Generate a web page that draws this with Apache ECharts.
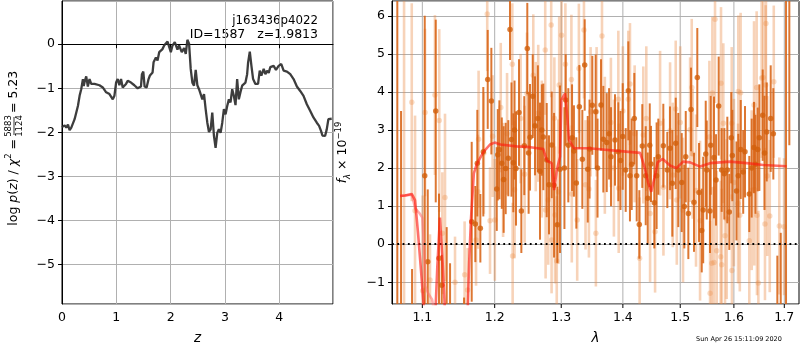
<!DOCTYPE html>
<html><head><meta charset="utf-8">
<script src="https://cdn.jsdelivr.net/npm/echarts@6/dist/echarts.min.js"></script>
<style>html,body{margin:0;padding:0;background:#fff}#c{width:800px;height:350px}</style>
</head><body><div id="c"></div>
<script>
// ---- left panel: log p(z)
const zVals = [0.000,0.049,0.079,0.110,0.140,0.171,0.232,0.293,0.324,0.354,0.385,0.400,0.415,0.446,0.476,0.507,0.538,0.599,0.690,0.751,0.782,0.813,0.874,0.935,0.965,0.996,1.026,1.057,1.087,1.118,1.179,1.210,1.271,1.332,1.393,1.454,1.472,1.497,1.521,1.558,1.594,1.619,1.668,1.686,1.729,1.759,1.790,1.851,1.881,1.943,1.973,2.004,2.034,2.077,2.126,2.156,2.205,2.248,2.279,2.309,2.340,2.370,2.401,2.431,2.462,2.492,2.523,2.553,2.584,2.615,2.645,2.676,2.706,2.737,2.767,2.798,2.828,2.859,2.889,2.920,2.951,2.981,3.012,3.042,3.073,3.103,3.134,3.164,3.195,3.225,3.256,3.286,3.317,3.348,3.378,3.409,3.427,3.458,3.488,3.519,3.561,3.610,3.641,3.671,3.714,3.745,3.775,3.806,3.836,3.867,3.897,3.940,3.989,4.038,4.081,4.142,4.203,4.264,4.325,4.386,4.447,4.508,4.569,4.630,4.692,4.734,4.771,4.795,4.844,4.875,4.905,4.936,4.966];
const logpVals = [-1.88,-1.84,-1.89,-1.82,-1.95,-1.89,-1.70,-1.40,-1.17,-1.02,-0.79,-0.95,-0.86,-0.73,-0.96,-0.79,-0.90,-0.90,-0.93,-0.98,-1.02,-1.09,-1.13,-1.25,-1.17,-0.87,-0.79,-0.93,-0.79,-0.98,-0.90,-0.83,-0.87,-0.93,-1.00,-0.96,-0.68,-0.62,-0.96,-0.98,-0.79,-0.71,-0.64,-0.41,-0.30,-0.37,-0.18,-0.11,-0.03,0.06,0.10,-0.18,-0.03,0.05,-0.12,-0.03,-0.18,-0.09,-0.22,0.10,0.01,-0.56,-0.87,-0.94,-0.58,-0.93,-1.02,-1.13,-1.25,-1.13,-1.47,-1.78,-1.99,-1.93,-1.55,-2.08,-2.35,-2.01,-1.93,-2.01,-1.78,-1.47,-1.59,-1.40,-1.25,-1.32,-1.02,-1.17,-1.38,-0.79,-1.25,-1.09,-0.94,-0.96,-0.87,-0.68,-0.41,-0.17,-0.49,-0.79,-0.90,-0.90,-0.60,-0.71,-0.56,-0.68,-0.60,-0.65,-0.52,-0.56,-0.49,-0.58,-0.49,-0.45,-0.60,-0.62,-0.68,-0.79,-0.96,-1.06,-1.17,-1.36,-1.51,-1.66,-1.78,-1.85,-1.97,-2.07,-2.08,-1.93,-1.70,-1.74,-1.69];

// ---- right panel: spectrum (lambda, flux, error)
const darkLam = [1.0674,1.0722,1.0865,1.1032,1.1072,1.1179,1.1223,1.1260,1.1327,1.1373,1.1566,1.1673,1.1724,1.1752,1.1795,1.1837,1.1900,1.1952,
1.2030,1.2068,1.2103,1.2160,1.2198,1.2223,1.2272,1.2312,1.2356,1.2391,1.2435,1.2480,1.2521,1.2562,1.2596,1.2672,1.2723,1.2775,1.2810,1.2852,1.2888,1.2939,1.2981,1.3070,1.3111,1.3170,1.3238,1.3286,1.3334,1.3372,1.3421,1.3495,
1.3550,1.3637,1.3675,1.3731,1.3802,1.3868,1.3924,1.3998,1.4048,1.4092,1.4150,1.4194,1.4235,1.4280,1.4331,1.4390,1.4425,1.4482,1.4540,1.4610,1.4698,1.4769,1.4817,1.4858,1.4919,1.4965,1.5027,1.5074,1.5147,1.5196,
1.5311,1.5343,1.5393,1.5467,1.5486,1.5547,1.5622,1.5660,1.5710,1.5767,1.5817,1.5874,1.5912,1.5970,1.6085,1.6132,1.6215,1.6299,1.6346,1.6392,1.6465,1.6497,1.6564,1.6644,1.6724,1.6777,1.6858,1.6927,1.7035,1.7103,
1.2045,1.2130,1.2245,1.2290,1.2500,1.2640,1.2700,1.3050,1.3200,1.3450,1.3580,1.3770,1.3960,1.4120,1.4460,1.4580,1.5100,1.5250,1.5420,1.5560,1.5950,1.6050,1.6180,1.6420,1.6600];
const darkFlux = [-3,-2.0,-1.9,1.80,-0.46,3.50,-0.37,-1.08,-1.9,-2.0,-2.0,0.59,0.53,2.13,0.42,2.43,4.33,3.76,
1.45,2.48,2.13,1.99,2.26,5.64,2.14,1.99,3.46,0.87,2.59,5.14,2.81,3.89,3.11,1.92,2.82,2.21,1.56,2.61,1.55,0.51,1.97,3.79,2.60,2.80,1.61,3.61,2.23,4.71,1.97,3.65,
3.48,3.66,2.76,2.67,2.30,2.74,2.43,2.83,1.95,4.03,2.10,3.30,1.80,0.52,2.58,1.80,1.21,2.11,1.09,2.30,2.59,1.95,2.52,1.60,2.65,1.95,1.62,0.99,0.81,3.54,
4.38,1.36,0.36,2.37,1.95,0.87,2.28,1.69,3.63,1.95,1.85,1.95,0.85,2.33,1.80,2.49,2.43,1.32,2.00,2.54,2.49,2.80,3.39,2.95,3.30,2.90,-2.0,-2.2,-3,7.5,
2.35,1.70,2.75,3.00,2.40,3.30,3.00,2.00,2.45,2.50,2.00,2.90,2.20,1.80,2.60,1.80,2.30,1.10,0.90,2.60,2.80,1.40,1.90,2.10,2.40];
const darkErr = [10,5.5,1.25,4.2,1.9,2.4,1.7,0.8,2.35,1.5,0.6,2.1,1.0,1.4,0.9,1.7,1.3,1.4,
1.1,1.3,1.2,1.2,1.0,0.8,1.3,1.5,1.4,1.1,1.3,1.2,1.4,1.1,1.3,1.8,1.4,1.5,1.3,1.4,1.9,1.0,2.2,1.2,1.5,1.4,1.2,1.1,1.3,1.2,1.4,1.3,
1.5,1.2,1.4,1.3,1.3,1.2,1.3,1.4,1.1,1.3,1.2,1.2,1.2,0.9,1.1,1.3,1.2,1.0,1.2,1.0,1.1,1.0,1.1,1.4,1.2,1.5,1.3,1.1,1.2,1.1,
1.3,1.3,1.1,1.4,1.3,1.1,1.6,1.2,1.3,1.1,1.2,1.4,1.0,1.2,1.1,1.3,1.2,1.0,1.3,1.2,1.1,1.4,1.2,1.3,1.4,1.2,1.7,2.5,10,4.9,
1.2,1.4,1.5,1.3,1.6,1.4,1.2,1.6,1.2,1.3,1.3,1.2,1.3,1.2,1.1,1.4,1.2,1.3,1.4,1.3,1.2,1.3,1.1,1.3,1.5];

const lightLam = [1.0761,1.0861,1.0904,1.1005,1.1036,1.1102,1.1168,1.1226,1.1268,1.1304,1.1441,1.1574,1.1616,1.1734,1.1761,1.1770,1.1845,1.1893,1.1933,1.1970,
1.2002,1.2088,1.2122,1.2257,1.2262,1.2290,1.2440,1.2475,1.2570,1.2607,1.2645,1.2752,1.2758,1.2798,1.2844,1.2850,1.2893,1.2903,1.2930,1.2955,
1.2968,1.3005,1.3065,1.3160,1.3166,1.3252,1.3279,1.3360,1.3385,1.3440,1.3467,1.3553,1.3565,1.3653,1.3924,1.3930,1.4092,1.4120,1.4285,1.4348,
1.4466,1.4553,1.4641,1.4818,1.4866,1.4919,1.4938,1.5179,1.5209,1.5227,1.5287,1.5362,1.5535,1.5548,1.5580,1.5591,1.5622,1.5641,1.5672,1.5748,
1.5754,1.5767,1.5798,1.5830,1.5862,1.5958,1.5962,1.6000,1.6085,1.6080,1.6114,1.6130,1.6299,1.6346,1.6392,1.6397,1.6444,1.6450,1.6478,1.6543,
1.6575,1.6609,1.6623,1.6629,1.6655,1.6705,1.6786,1.6898,1.6995,
1.3700,1.3800,1.3850,1.4000,1.4200,1.4400,1.4700,1.5000,1.5050,1.2180,1.2380,1.2700];
const lightFlux = [-3,3.73,0.88,-1.22,3.46,-0.94,3.92,3.25,0.29,1.23,-1.0,-0.8,-1.2,0.11,1.38,2.76,2.40,6.05,0.62,2.84,
0.64,3.59,1.69,4.73,-0.31,1.43,1.84,3.96,4.44,3.09,3.44,5.10,0.90,1.16,5.76,0.11,3.31,0.77,-0.44,1.38,
4.18,5.49,4.73,4.33,1.32,0.64,4.62,5.63,1.56,1.45,3.48,0.29,3.48,5.47,3.81,1.47,3.81,4.21,-0.37,2.87,
0.81,0.33,3.18,2.98,1.82,3.55,1.16,3.01,4.12,2.37,1.41,0.62,2.82,-1.29,-0.50,3.97,-0.48,5.91,-0.17,-0.33,
4.23,-0.54,3.18,0.22,0.66,3.18,-0.69,1.62,4.01,1.07,0.76,3.98,0.09,1.42,3.66,1.44,4.12,0.76,-1.02,4.37,
4.38,0.53,4.18,5.80,1.79,0.74,4.27,0.48,0.46,
2.6,3.2,2.0,3.5,2.9,3.3,1.5,3.2,0.9,2.9,3.3,2.5];
const lightErr = [10,2.6,2.5,2.5,2.2,1.2,2.1,2.4,1.6,2.2,1.2,1.4,1.1,1.2,1.5,1.8,1.6,1.5,1.4,1.6,
1.6,1.7,1.5,1.6,1.4,1.8,1.8,1.6,1.6,1.7,1.8,1.7,1.8,1.7,1.9,1.4,1.6,1.8,1.7,1.9,
1.8,1.7,1.6,1.7,1.8,1.6,1.7,1.8,1.7,1.8,1.7,1.4,1.7,1.9,1.8,1.7,1.8,1.6,1.6,1.8,
1.8,1.6,1.9,1.8,1.9,1.8,1.7,1.9,1.8,1.7,2.0,2.1,2.0,1.9,2.0,2.0,2.0,2.2,2.1,2.0,
2.0,2.0,2.1,2.0,2.1,2.0,2.0,2.2,2.0,2.1,2.0,2.1,2.0,2.1,2.2,2.0,2.0,2.1,1.9,2.1,
2.0,2.0,2.1,2.0,2.1,2.0,2.0,1.8,1.8,
1.8,1.7,1.8,1.7,1.8,1.9,1.8,2.0,1.9,1.6,1.7,1.8];

const modelLam = [1.0709,1.0773,1.0861,1.0904,1.0943,1.0983,1.1016,1.1040,1.1170,1.1200,1.1235,1.1270,1.1310,1.1612,1.1637,1.1662,1.1703,1.1743,1.1837,1.1933,1.2000,1.2083,1.2320,1.2526,1.2723,1.2775,1.2852,1.2890,1.2930,1.2981,1.3003,1.3060,1.3095,1.3121,1.3201,1.3440,1.4007,1.4294,1.4375,1.4431,1.4486,1.4543,1.4599,1.4688,1.4818,1.4930,1.5052,1.5179,1.5362,1.5548,1.5926,1.6250,1.6575,1.7048];
const modelFlux = [1.27,1.28,1.32,1.16,0.30,-0.70,-1.57,-2.5,-2.0,-0.6,0.70,-0.4,-2.0,-2.0,-0.5,0.64,1.86,2.10,2.42,2.62,2.67,2.62,2.57,2.55,2.50,2.20,2.13,1.42,1.94,2.30,3.79,3.96,3.35,2.74,2.52,2.52,2.44,2.40,2.00,1.62,1.38,1.75,2.16,2.24,2.07,2.00,2.17,2.15,2.04,2.13,2.17,2.13,2.08,2.05];
const model2Lam = [1.0709,1.0861,1.0904,1.0960,1.1000,1.1025,1.1040,1.1080,1.1130,1.1160];
const model2Flux = [1.27,1.30,0.95,0.82,0.70,-0.20,-1.10,-1.30,-1.45,-1.80];

const zTicks = [0,1,2,3,4];
const lamTicks = [1.1,1.2,1.3,1.4,1.5,1.6,1.7];

const FONT = 'DejaVu Sans';
const FS = 12.5;
function fmt(v){ return v < 0 ? '\u2212' + Math.abs(v) : String(v); }

const pz = zVals.map((z,i)=>[z, logpVals[i]]);
const dark = darkLam.map((l,i)=>[l, darkFlux[i], darkErr[i]]);
const light = lightLam.map((l,i)=>[l, lightFlux[i], lightErr[i]]);
const model = modelLam.map((l,i)=>[l, modelFlux[i]]);
const model2 = model2Lam.map((l,i)=>[l, model2Flux[i]]);

const DARK_BAR = 'rgba(216,100,22,0.88)';
const DARK_DOT = '#d2600c';
const LIGHT = 'rgba(235,140,70,0.38)';

function errBar(color, width){
  return function(params, api){
    const x = api.value(0), y = api.value(1), e = api.value(2);
    const p1 = api.coord([x, y + e]), p2 = api.coord([x, y - e]);
    return {type:'line', shape:{x1:p1[0], y1:p1[1], x2:p2[0], y2:p2[1]}, style:{stroke:color, lineWidth:width}};
  };
}

const chart = echarts.init(document.getElementById('c'));
const axisLbl = {color:'#000', fontSize:FS, fontFamily:FONT, margin:7};
const tick = {show:true, length:4, lineStyle:{color:'#000', width:1}};
const split = {show:true, lineStyle:{color:'#b0b0b0', width:1}};

chart.setOption({
  animation:false,
  textStyle:{fontFamily:FONT},
  grid:[
    {left:62, top:1, width:271, height:303, show:true, borderColor:'#000', borderWidth:1, containLabel:false},
    {left:392, top:1, width:407, height:303, show:true, borderColor:'#000', borderWidth:1, containLabel:false}
  ],
  xAxis:[
    {type:'value', gridIndex:0, min:0, max:4.99, interval:1,
     axisLine:{show:true, lineStyle:{color:'#000'}}, axisTick:tick, splitLine:split,
     axisLabel:Object.assign({}, axisLbl, {showMaxLabel:false, formatter:fmt}),
     name:'z', nameLocation:'middle', nameGap:27,
     nameTextStyle:{fontStyle:'italic', fontSize:FS+1, color:'#000', fontFamily:FONT}},
    {type:'log', logBase:10, gridIndex:1, min:1.0606, max:1.7303,
     axisLine:{show:false}, axisTick:{show:false}, splitLine:{show:false}, axisLabel:{show:false},
     name:'λ', nameLocation:'middle', nameGap:27,
     nameTextStyle:{fontStyle:'italic', fontSize:FS+1, color:'#000', fontFamily:FONT}}
  ],
  yAxis:[
    {type:'value', gridIndex:0, min:-5.89, max:0.98, splitNumber:7,
     axisLine:{show:true, lineStyle:{color:'#000'}}, axisTick:tick, splitLine:split,
     axisLabel:Object.assign({}, axisLbl, {showMinLabel:false, showMaxLabel:false, formatter:fmt})},
    {type:'value', gridIndex:1, min:-1.57, max:6.39, splitNumber:8,
     axisLine:{show:true, lineStyle:{color:'#000'}}, axisTick:tick, splitLine:split,
     axisLabel:Object.assign({}, axisLbl, {showMinLabel:false, showMaxLabel:false, formatter:fmt}),
     name:'{i|f}{sub|λ}{n| × 10}{sup|−19}', nameLocation:'middle', nameGap:40, nameRotate:90,
     nameTextStyle:{color:'#000', fontFamily:FONT, rich:{
       i:{fontStyle:'italic', fontSize:FS, lineHeight:18, fontFamily:FONT, color:'#000'},
       n:{fontSize:FS, lineHeight:18, fontFamily:FONT, color:'#000'},
       sub:{fontStyle:'italic', fontSize:8.5, verticalAlign:'bottom', fontFamily:FONT, color:'#000'},
       sup:{fontSize:8.5, verticalAlign:'top', fontFamily:FONT, color:'#000'}
     }}}
  ],
  series:[
    {type:'line', xAxisIndex:0, yAxisIndex:0, data:pz, showSymbol:false, silent:true,
     lineStyle:{color:'#333', width:2.3, opacity:0.95}, z:3},
    {type:'custom', xAxisIndex:1, yAxisIndex:1, clip:false, silent:true, z:1,
     data: lamTicks.map(v=>[v, 0]),
     renderItem:function(params, api){
       const cs = params.coordSys;
       const x = api.coord([api.value(0), 0])[0];
       const b = cs.y + cs.height;
       return {type:'group', children:[
         {type:'line', shape:{x1:x, y1:cs.y, x2:x, y2:b}, style:{stroke:'#b0b0b0', lineWidth:1}},
         {type:'line', shape:{x1:x, y1:b, x2:x, y2:b+4}, style:{stroke:'#000', lineWidth:1}},
         {type:'text', style:{text:String(lamTicks[params.dataIndex]), x:x, y:b+7,
           align:'center', verticalAlign:'top', textAlign:'center', textVerticalAlign:'top',
           fontSize:FS, fontFamily:FONT, fill:'#000'}}
       ]};
     }},
    {type:'custom', xAxisIndex:1, yAxisIndex:1, clip:true, silent:true, z:2,
     data:light, renderItem:errBar(LIGHT, 2.6)},
    {type:'scatter', xAxisIndex:1, yAxisIndex:1, data:light, symbolSize:5.5, silent:true, z:2,
     itemStyle:{color:LIGHT}},
    {type:'custom', xAxisIndex:1, yAxisIndex:1, clip:true, silent:true, z:3,
     data:dark, renderItem:errBar(DARK_BAR, 2)},
    {type:'scatter', xAxisIndex:1, yAxisIndex:1, data:dark, symbolSize:5.5, silent:true, z:3,
     itemStyle:{color:DARK_DOT}},
    {type:'line', xAxisIndex:1, yAxisIndex:1, data:model2, showSymbol:false, silent:true, z:4,
     lineStyle:{color:'rgba(255,110,110,0.55)', width:2.5}},
    {type:'line', xAxisIndex:1, yAxisIndex:1, data:model, showSymbol:false, silent:true, z:5,
     lineStyle:{color:'rgba(255,25,15,0.62)', width:2.6},
     markLine:{silent:true, symbol:'none', label:{show:false}, animation:false,
       lineStyle:{color:'#000', width:1.8, type:[1.8,3.5]}, data:[{yAxis:0}]}}
  ],
  graphic:[
    {type:'text', x:318, y:21, style:{text:'j163436p4022', align:'right', textAlign:'right', verticalAlign:'middle', textVerticalAlign:'middle', fontSize:11.8, fontFamily:FONT, fill:'#000'}},
    {type:'text', x:318, y:35, style:{text:'ID=1587   z=1.9813', align:'right', textAlign:'right', verticalAlign:'middle', textVerticalAlign:'middle', fontSize:FS, fontFamily:FONT, fill:'#000'}},
    {type:'text', x:696, y:339, style:{text:'Sun Apr 26 15:11:09 2020', align:'left', textAlign:'left', verticalAlign:'middle', textVerticalAlign:'middle', fontSize:6.5, fontFamily:FONT, fill:'#000'}},
    {type:'group', x:13.5, y:154, rotation:Math.PI/2, children:[
      {type:'text', x:15, y:0, style:{text:'{n|log }{i|p}{n|(}{i|z}{n|) / }{i|χ}{s|2}{n| =}', align:'right', textAlign:'right', verticalAlign:'middle', textVerticalAlign:'middle',
        rich:{n:{fontSize:FS, lineHeight:18, fontFamily:FONT, fill:'#000', color:'#000'},
              i:{fontSize:FS, lineHeight:18, fontStyle:'italic', fontFamily:FONT, fill:'#000', color:'#000'},
              s:{fontSize:8.5, verticalAlign:'top', fontFamily:FONT, fill:'#000', color:'#000'}}}},
      {type:'text', x:28, y:-5, style:{text:'5883', align:'center', textAlign:'center', verticalAlign:'middle', textVerticalAlign:'middle', fontSize:8.5, fontFamily:FONT, fill:'#000'}},
      {type:'line', shape:{x1:19, y1:0.5, x2:37, y2:0.5}, style:{stroke:'#000', lineWidth:0.8}},
      {type:'text', x:28, y:6, style:{text:'1124', align:'center', textAlign:'center', verticalAlign:'middle', textVerticalAlign:'middle', fontSize:8.5, fontFamily:FONT, fill:'#000'}},
      {type:'text', x:41, y:0, style:{text:'= 5.23', align:'left', textAlign:'left', verticalAlign:'middle', textVerticalAlign:'middle', fontSize:FS, fontFamily:FONT, fill:'#000'}}
    ]}
  ]
});
</script>
</body></html>
